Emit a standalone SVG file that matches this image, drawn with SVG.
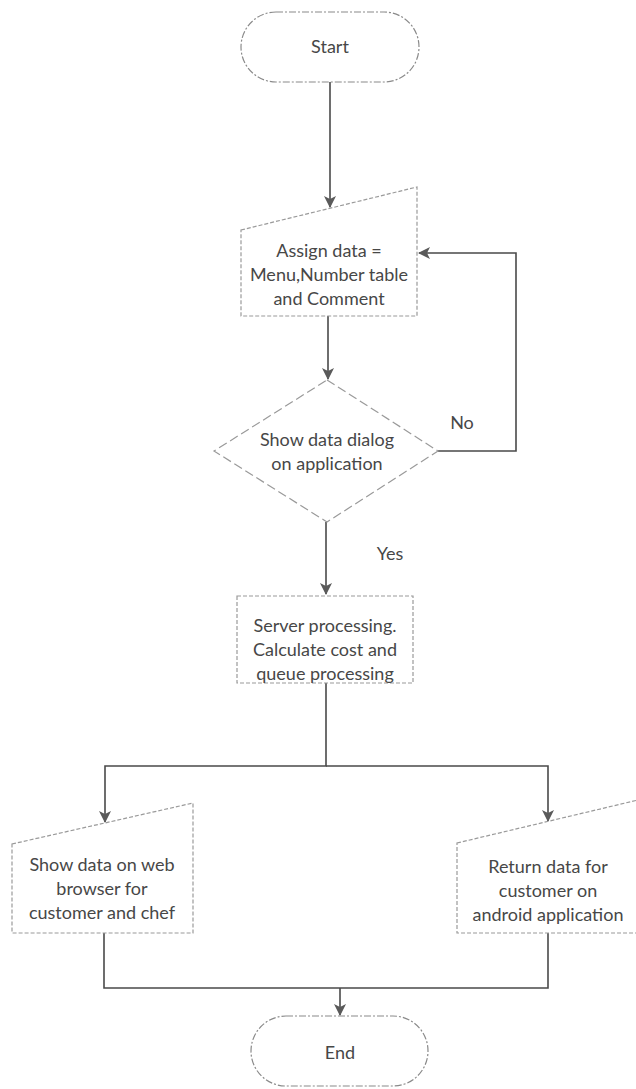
<svg xmlns="http://www.w3.org/2000/svg" width="636" height="1089" viewBox="0 0 636 1089">
<style>
.shape{fill:#fff;stroke:#9a9a9a;stroke-width:1.2;stroke-dasharray:4 2}
.dia{fill:#fff;stroke:#9a9a9a;stroke-width:1.2;stroke-dasharray:9 4}
.term{fill:#fff;stroke:#8a8a8a;stroke-width:1.2;stroke-dasharray:7 2 2 2}
.conn{fill:none;stroke:#4a4a4a;stroke-width:1.6}
text{font-family:Lato,"Open Sans","Liberation Sans",sans-serif;font-size:18px;fill:#474747;text-anchor:middle}
</style>
<defs>
<marker id="arr" viewBox="0 0 12 12" refX="11" refY="6" markerWidth="12" markerHeight="12" markerUnits="userSpaceOnUse" orient="auto">
<path d="M0,0 L12,6 L0,12 L3,6 Z" fill="#5a5a5a"/>
</marker>
</defs>
<rect width="636" height="1089" fill="#fff"/>
<g id="connectors">
<path class="conn" d="M330,82 V207" marker-end="url(#arr)"/>
<path class="conn" d="M328,316 V379" marker-end="url(#arr)"/>
<path class="conn" d="M438,451 H516 V253 H419" marker-end="url(#arr)"/>
<path class="conn" d="M326,522 V594" marker-end="url(#arr)"/>
<path class="conn" d="M326,683 V766 H105 V822" marker-end="url(#arr)"/>
<path class="conn" d="M326,766 H548 V821" marker-end="url(#arr)"/>
<path class="conn" d="M104,933 V988 H548 V933"/>
<path class="conn" d="M340,988 V1015" marker-end="url(#arr)"/>
</g>
<g id="start">
<rect class="term" x="241" y="12" width="178" height="70" rx="35"/>
<text x="330" y="53">Start</text>
</g>
<g id="assign">
<polygon class="shape" points="241,230 417,187 417,316 241,316"/>
<text x="329" y="257">Assign data =</text>
<text x="329" y="281">Menu,Number table</text>
<text x="329" y="305">and Comment</text>
</g>
<g id="decision">
<polygon class="dia" points="327,380 438,451 327,522 214,451"/>
<text x="327" y="446">Show data dialog</text>
<text x="327" y="470">on application</text>
</g>
<text x="462" y="429">No</text>
<text x="390" y="560">Yes</text>
<g id="server">
<rect class="shape" x="237" y="596" width="176" height="87"/>
<text x="325" y="632">Server processing.</text>
<text x="325" y="656">Calculate cost and</text>
<text x="325" y="680">queue processing</text>
</g>
<g id="web">
<polygon class="shape" points="12,844 193,803 193,933 12,933"/>
<text x="102" y="871">Show data on web</text>
<text x="102" y="895">browser for</text>
<text x="102" y="919">customer and chef</text>
</g>
<g id="android">
<polygon class="shape" points="457,843 638,800 638,933 457,933"/>
<text x="548" y="873">Return data for</text>
<text x="548" y="897">customer on</text>
<text x="548" y="921">android application</text>
</g>
<g id="end">
<rect class="term" x="251" y="1016" width="177" height="70" rx="35"/>
<text x="340" y="1059">End</text>
</g>
</svg>
